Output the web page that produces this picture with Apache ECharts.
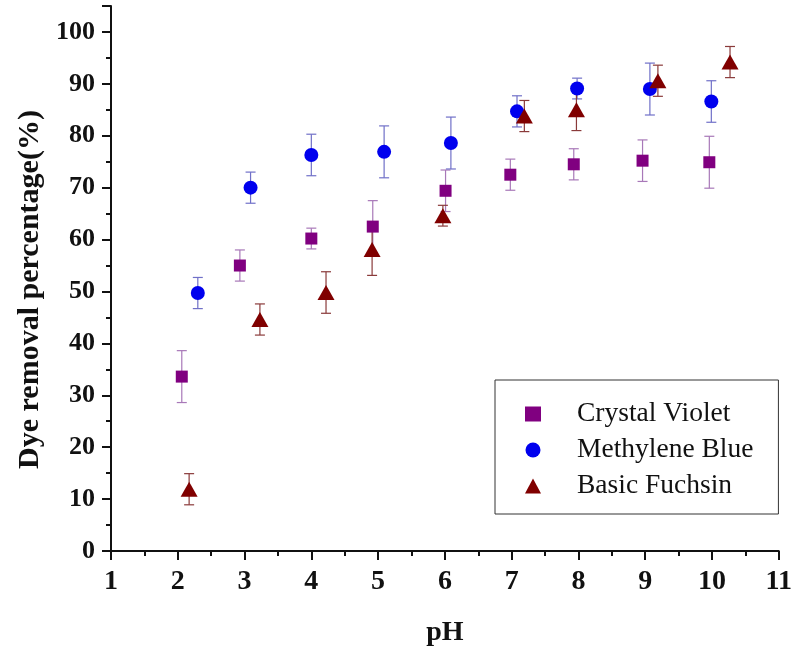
<!DOCTYPE html>
<html>
<head>
<meta charset="utf-8">
<script src="https://cdn.jsdelivr.net/npm/echarts@6/dist/echarts.min.js"></script>
<style>
html,body{margin:0;padding:0;background:#fff;}
#chart{width:795px;height:652px;}
</style>
</head>
<body>
<div id="chart"></div>
<script>
// ---- data ----
const seriesNames = ['Crystal Violet', 'Methylene Blue', 'Basic Fuchsin'];

const cvX   = [2.06, 2.93, 4.00, 4.92, 6.01, 6.98, 7.93, 8.96, 9.96];
const cvY   = [33.6, 55.0, 60.2, 62.5, 69.4, 72.5, 74.5, 75.2, 74.9];
const cvErr = [5, 3, 2, 5, 4, 3, 3, 4, 5];

const mbX   = [2.30, 3.09, 4.00, 5.09, 6.09, 7.08, 7.98, 9.07, 9.99];
const mbY   = [49.7, 70.0, 76.3, 76.9, 78.6, 84.7, 89.1, 89.0, 86.6];
const mbErr = [3, 3, 4, 5, 5, 3, 2, 5, 4];

const bfX   = [2.17, 3.23, 4.22, 4.91, 5.97, 7.19, 7.97, 9.19, 10.27];
const bfY   = [11.9, 44.6, 49.8, 58.1, 64.6, 83.8, 85.0, 90.6, 94.2];
const bfErr = [3, 3, 4, 5, 2, 3, 4, 3, 3];

const xTicks = [1, 2, 3, 4, 5, 6, 7, 8, 9, 10, 11];
const yTicks = [0, 10, 20, 30, 40, 50, 60, 70, 80, 90, 100];

// ---- build ----
function pts(xs, ys) { return xs.map((x, i) => [x, ys[i]]); }
function errs(xs, ys, es) { return xs.map((x, i) => [x, ys[i] - es[i], ys[i] + es[i]]); }

function errorSeries(data, color) {
  return {
    type: 'custom',
    z: 1,
    silent: true,
    data: data,
    renderItem: function (params, api) {
      const x = api.value(0);
      const top = api.coord([x, api.value(2)]);
      const bot = api.coord([x, api.value(1)]);
      const w = 5;
      const st = { stroke: color, lineWidth: 1.2 };
      return {
        type: 'group',
        children: [
          { type: 'line', shape: { x1: top[0], y1: top[1], x2: bot[0], y2: bot[1] }, style: st },
          { type: 'line', shape: { x1: top[0] - w, y1: top[1], x2: top[0] + w, y2: top[1] }, style: st },
          { type: 'line', shape: { x1: bot[0] - w, y1: bot[1], x2: bot[0] + w, y2: bot[1] }, style: st }
        ]
      };
    }
  };
}

const serif = '"Liberation Serif", "Times New Roman", serif';
const chart = echarts.init(document.getElementById('chart'));
chart.setOption({
  animation: false,
  backgroundColor: '#ffffff',
  grid: { left: 111, right: 15, top: 6, bottom: 100, containLabel: false },
  legend: {
    orient: 'vertical',
    left: 495,
    top: 380,
    data: seriesNames,
    borderColor: '#333',
    borderWidth: 1,
    borderRadius: 0,
    padding: [20, 25, 14, 30],
    itemGap: 8,
    itemWidth: 16,
    itemHeight: 15,
    textStyle: { fontFamily: serif, fontSize: 27.5, color: '#111', padding: [0, 0, 0, 31], lineHeight: 26 }
  },
  xAxis: {
    type: 'value',
    min: 1, max: 11, interval: 1,
    name: 'pH',
    nameLocation: 'middle',
    nameGap: 68,
    nameTextStyle: { fontFamily: serif, fontSize: 28, fontWeight: 'bold', color: '#111' },
    axisLine: { show: true, onZero: false, lineStyle: { color: '#111', width: 2 } },
    axisTick: { show: true, inside: false, length: 9, lineStyle: { color: '#111', width: 2 } },
    minorTick: { show: true, splitNumber: 2, length: 5, lineStyle: { color: '#111', width: 2 } },
    splitLine: { show: false },
    axisLabel: {
      fontFamily: serif, fontSize: 28, fontWeight: 'bold', color: '#111', margin: 17,
      formatter: function (v) { return xTicks.indexOf(v) >= 0 ? String(v) : ''; }
    }
  },
  yAxis: {
    type: 'value',
    min: 0, max: 105, interval: 10,
    name: 'Dye removal percentage(%)',
    nameLocation: 'middle',
    nameGap: 64,
    nameRotate: 90,
    nameTextStyle: { fontFamily: serif, fontSize: 30, fontWeight: 'bold', color: '#111', padding: [0, 22, 0, 0] },
    axisLine: { show: true, onZero: false, lineStyle: { color: '#111', width: 2 } },
    axisTick: { show: true, inside: false, length: 9, lineStyle: { color: '#111', width: 2 } },
    minorTick: { show: true, splitNumber: 2, length: 5, lineStyle: { color: '#111', width: 2 } },
    splitLine: { show: false },
    axisLabel: {
      fontFamily: serif, fontSize: 26, fontWeight: 'bold', color: '#111', margin: 16,
      showMaxLabel: false,
      formatter: function (v) { return yTicks.indexOf(v) >= 0 ? String(v) : ''; }
    }
  },
  series: [
    errorSeries(errs(cvX, cvY, cvErr), '#a878b8'),
    errorSeries(errs(mbX, mbY, mbErr), '#7070c8'),
    errorSeries(errs(bfX, bfY, bfErr), '#8a3a3a'),
    {
      name: seriesNames[0], type: 'scatter', z: 3,
      symbol: 'rect', symbolSize: 12,
      itemStyle: { color: '#800080', opacity: 1 },
      data: pts(cvX, cvY)
    },
    {
      name: seriesNames[1], type: 'scatter', z: 3,
      symbol: 'circle', symbolSize: 14,
      itemStyle: { color: '#0000ee', opacity: 1 },
      data: pts(mbX, mbY)
    },
    {
      name: seriesNames[2], type: 'scatter', z: 3,
      symbol: 'triangle', symbolSize: [17, 15],
      itemStyle: { color: '#800000', opacity: 1 },
      data: pts(bfX, bfY)
    }
  ]
});
</script>
</body>
</html>
